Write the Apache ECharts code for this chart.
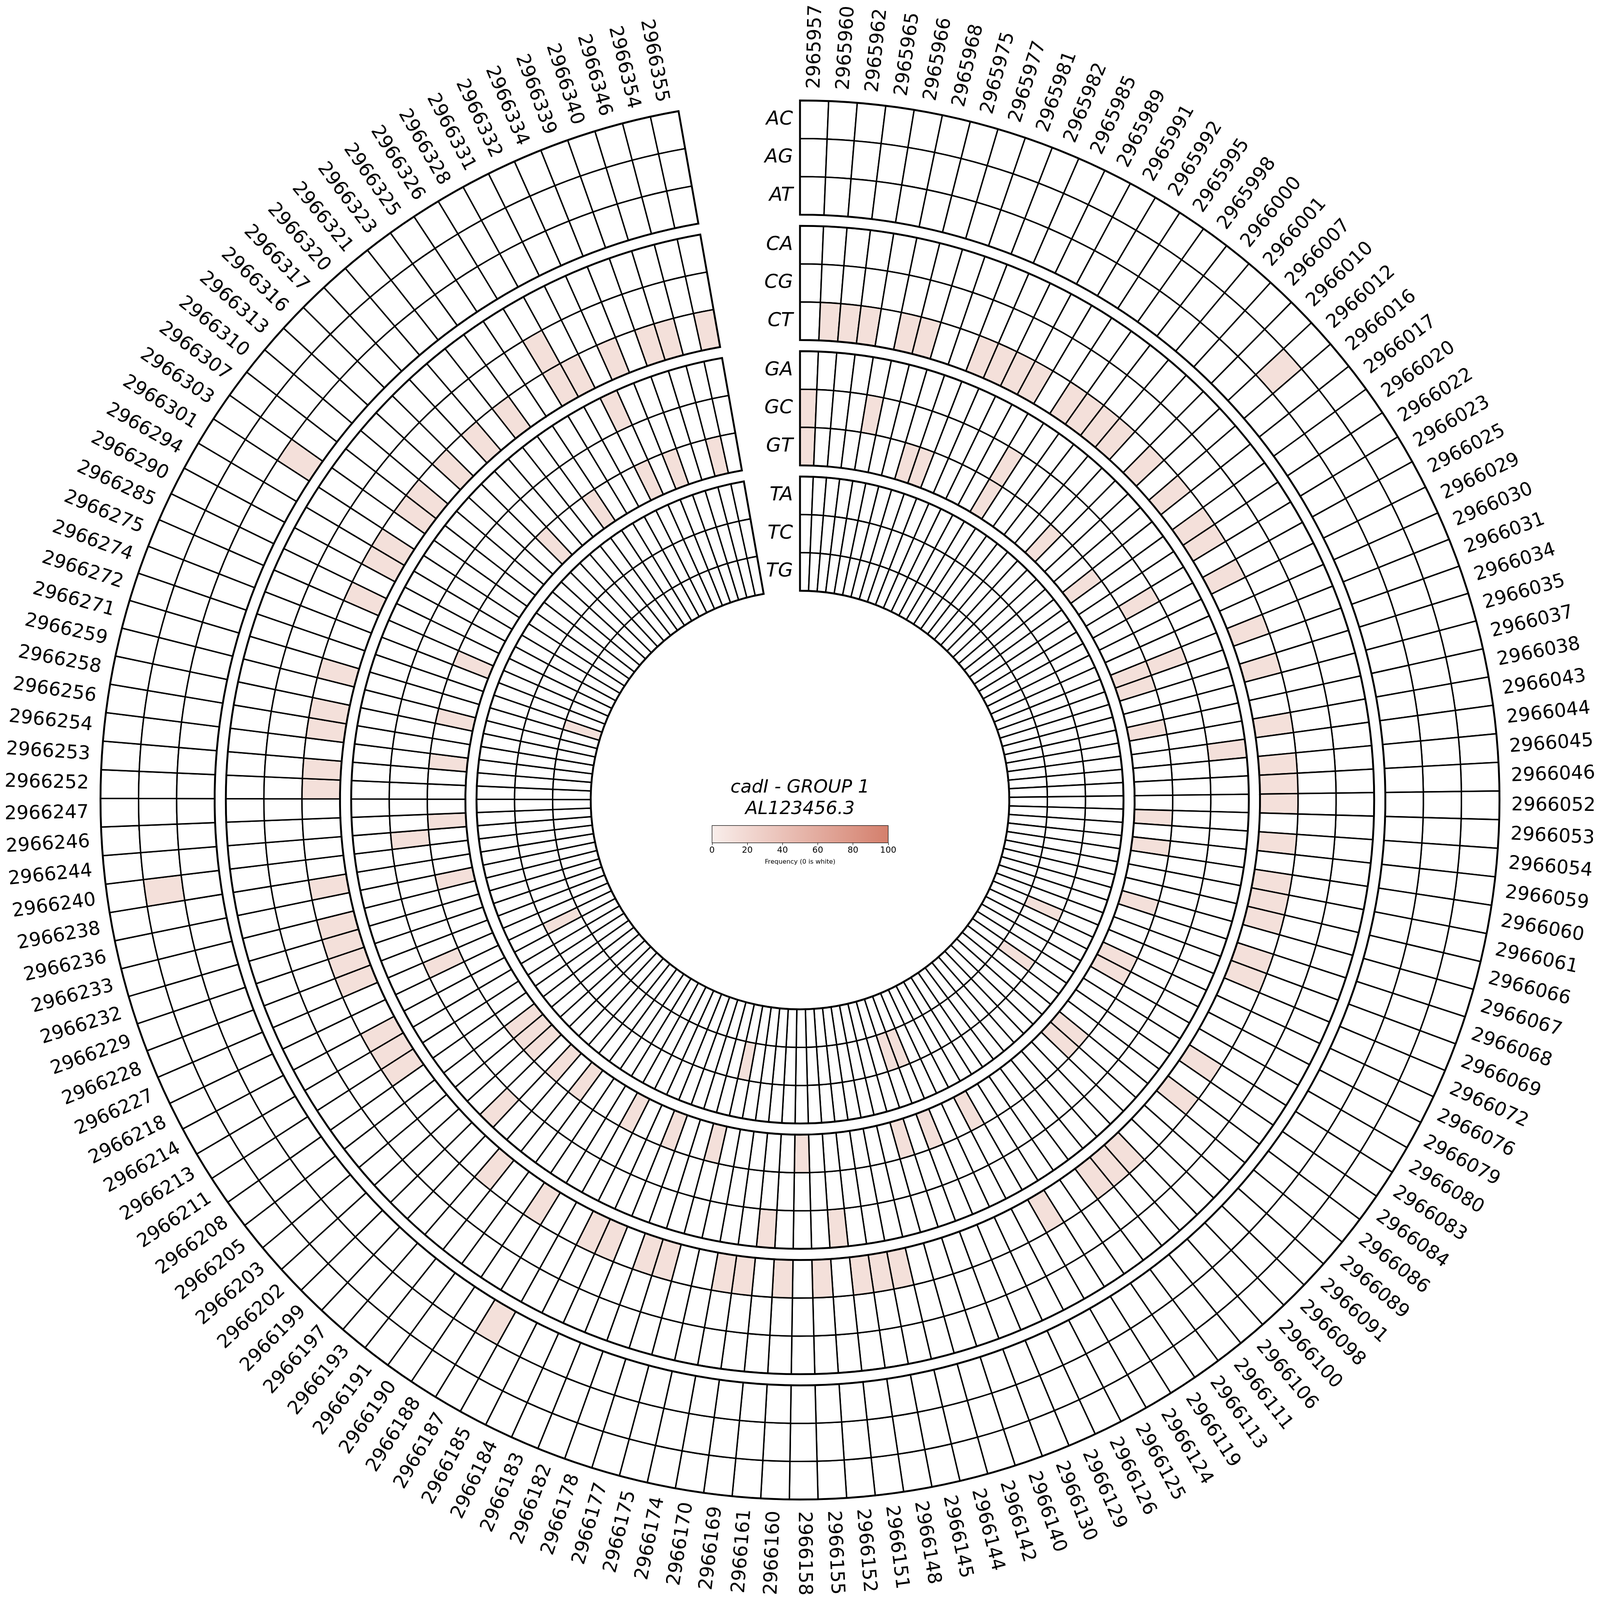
<!DOCTYPE html>
<html>
<head>
<meta charset="utf-8">
<script src="https://cdn.jsdelivr.net/npm/echarts@6/dist/echarts.min.js"></script>
<style>
html,body{margin:0;padding:0;background:#ffffff;overflow:hidden;}
#chart{position:absolute;left:0;top:0;}
</style>
</head>
<body>
<div id="chart"></div>
<script>
// ---------------- data ----------------
const positions = [
2965957,2965960,2965962,2965965,2965966,2965968,2965975,2965977,2965981,2965982,
2965985,2965989,2965991,2965992,2965995,2965998,2966000,2966001,2966007,2966010,
2966012,2966016,2966017,2966020,2966022,2966023,2966025,2966029,2966030,2966031,
2966034,2966035,2966037,2966038,2966043,2966044,2966045,2966046,2966052,2966053,
2966054,2966059,2966060,2966061,2966066,2966067,2966068,2966069,2966072,2966076,
2966079,2966080,2966083,2966084,2966086,2966089,2966091,2966098,2966100,2966106,
2966111,2966113,2966119,2966124,2966125,2966126,2966129,2966130,2966140,2966142,
2966144,2966145,2966148,2966151,2966152,2966155,2966158,2966160,2966161,2966169,
2966170,2966174,2966175,2966177,2966178,2966182,2966183,2966184,2966185,2966187,
2966188,2966190,2966191,2966193,2966197,2966199,2966202,2966203,2966205,2966208,
2966211,2966213,2966214,2966218,2966227,2966228,2966229,2966232,2966233,2966236,
2966238,2966240,2966244,2966246,2966247,2966252,2966253,2966254,2966256,2966258,
2966259,2966271,2966272,2966274,2966275,2966285,2966290,2966294,2966301,2966303,
2966307,2966310,2966313,2966316,2966317,2966320,2966321,2966323,2966325,2966326,
2966328,2966331,2966332,2966334,2966339,2966340,2966346,2966354,2966355
];
const rowNames = ['AC','AG','AT','CA','CG','CT','GA','GC','GT','TA','TC','TG'];

// non-zero frequencies per substitution row: [position, frequency %]
const rowAC = [];
const rowAG = [[2966012,13],[2966240,13]];
const rowAT = [[2966187,13],[2966303,13]];
const rowCA = [];
const rowCG = [[2966328,13]];
const rowCT = [
[2965960,13],[2965962,13],[2965965,13],[2965968,13],[2965975,13],[2965982,13],[2965985,13],
[2965989,13],[2965991,13],[2965995,13],[2965998,13],[2966000,13],[2966001,13],[2966010,13],
[2966016,13],[2966020,13],[2966022,13],[2966025,13],[2966031,13],[2966035,13],[2966043,13],
[2966045,13],[2966046,13],[2966052,13],[2966054,13],[2966060,13],[2966061,13],[2966066,13],
[2966068,13],[2966069,13],[2966083,13],[2966086,13],[2966100,13],[2966106,13],[2966111,13],
[2966124,13],[2966145,13],[2966148,13],[2966151,13],[2966155,13],[2966160,13],[2966169,13],
[2966170,13],[2966177,13],[2966178,13],[2966183,13],[2966184,13],[2966188,13],[2966193,13],
[2966211,13],[2966213,13],[2966214,13],[2966228,13],[2966229,13],[2966232,13],[2966233,13],
[2966238,13],[2966252,13],[2966253,13],[2966256,13],[2966258,13],[2966271,13],[2966285,13],
[2966294,13],[2966301,13],[2966307,13],[2966310,13],[2966316,13],[2966320,13],[2966323,13],
[2966328,13],[2966331,13],[2966334,13],[2966340,13],[2966346,13],[2966355,13]
];
const rowGA = [[2966044,13],[2966152,13],[2966161,13],[2966199,13],[2966332,13]];
const rowGC = [[2965957,13],[2965966,13],[2965992,13],[2966023,13],[2966031,13],[2966227,13],[2966244,13]];
const rowGT = [
[2965957,13],[2965977,13],[2965981,13],[2965992,13],[2966007,13],[2966017,13],[2966031,13],
[2966034,13],[2966038,13],[2966053,13],[2966059,13],[2966067,13],[2966076,13],[2966079,13],
[2966089,13],[2966091,13],[2966125,13],[2966130,13],[2966142,13],[2966158,13],[2966175,13],
[2966182,13],[2966185,13],[2966191,13],[2966197,13],[2966202,13],[2966203,13],[2966205,13],
[2966236,13],[2966246,13],[2966254,13],[2966259,13],[2966275,13],[2966317,13],[2966325,13],
[2966332,13],[2966339,13],[2966354,13]
];
const rowTA = [];
const rowTC = [[2966072,13],[2966084,13],[2966130,13],[2966140,13],[2966174,13],[2966218,13]];
const rowTG = [[2966272,13]];

const colorStops = ['#f9eeeb','#d47f6c'];
const colorbarTicks = [0,20,40,60,80,100];
const titleText = 'cadI - GROUP 1\nAL123456.3';
const colorbarName = 'Frequency (0 is white)';

// ---------------- layout (reference pixels, scaled to the viewport) ----------------
const W = Math.min(window.innerWidth, window.innerHeight) || 6766;
const S = W / 6766;
const dom = document.getElementById('chart');
dom.style.width = W + 'px';
dom.style.height = W + 'px';

const rowsData = [rowAC,rowAG,rowAT,rowCA,rowCG,rowCT,rowGA,rowGC,rowGT,rowTA,rowTC,rowTG];
const N = positions.length;
const SPAN = 350;               // degrees covered by the heatmap
const STEP = SPAN / N;
const R_IN = 885, ROW_H = 161, GAP = 47;
const R_OUT = R_IN + 4 * 3 * ROW_H + 3 * GAP;
const LABEL_R = R_OUT + 50;

function rowRange(ri) {
  const t = Math.floor(ri / 3), j = ri % 3;
  const fromInner = 3 - t;
  const base = R_IN + fromInner * (3 * ROW_H + GAP);
  const outer = base + (3 - j) * ROW_H;
  return [outer - ROW_H, outer];
}

const cellData = [];
rowsData.forEach((rows, ri) => {
  const m = {};
  rows.forEach(([p, v]) => { m[p] = v; });
  positions.forEach((p, k) => {
    cellData.push([k, ri, m[p] !== undefined ? m[p] : 0]);
  });
});

function sectorShape(api, r0, r1, a0, a1) {
  const c = api.coord([0, a0]);
  const q0 = api.coord([r1, a0]);
  const q1 = api.coord([r1, a1]);
  const q2 = api.coord([r0, a0]);
  let s = Math.atan2(q0[1] - c[1], q0[0] - c[0]);
  let e = Math.atan2(q1[1] - c[1], q1[0] - c[0]);
  while (e <= s) e += 2 * Math.PI;
  return {
    cx: c[0], cy: c[1],
    r0: Math.hypot(q2[0] - c[0], q2[1] - c[1]),
    r: Math.hypot(q0[0] - c[0], q0[1] - c[1]),
    startAngle: s, endAngle: e, clockwise: true
  };
}

const chart = echarts.init(dom);
const option = {
  backgroundColor: '#ffffff',
  animation: false,
  polar: { center: ['50%', '50%'], radius: [0, R_OUT * S] },
  angleAxis: { type: 'value', min: 0, max: 360, startAngle: 90, clockwise: true, show: false },
  radiusAxis: { type: 'value', min: 0, max: R_OUT, show: false },
  graphic: [{
    type: 'text', x: W / 2, y: (3331 - 46) * S,
    style: { text: titleText, fontFamily: 'DejaVu Sans', fontStyle: 'italic', fontWeight: 'normal',
      fontSize: 77 * S, lineHeight: 92 * S, fill: '#000', align: 'center', verticalAlign: 'top' }
  }],
  visualMap: {
    type: 'continuous', min: 0, max: 100, dimension: 2, seriesIndex: 0,
    inRange: { color: colorStops }, show: false
  },
  grid: {
    left: 3011 * S, top: 3491 * S, width: 745 * S, height: 73 * S,
    show: true, borderColor: '#000', borderWidth: 2 * S,
    backgroundColor: { type: 'linear', x: 0, y: 0, x2: 1, y2: 0,
      colorStops: [{ offset: 0, color: colorStops[0] }, { offset: 1, color: colorStops[1] }] }
  },
  xAxis: {
    type: 'value', gridIndex: 0, min: colorbarTicks[0], max: colorbarTicks[colorbarTicks.length - 1],
    interval: colorbarTicks[1] - colorbarTicks[0],
    axisLine: { show: false },
    axisTick: { show: true, length: 10 * S, lineStyle: { color: '#000', width: 2 * S } },
    splitLine: { show: false },
    axisLabel: { fontFamily: 'DejaVu Sans', fontSize: 36 * S, color: '#000', margin: 14 * S },
    name: colorbarName, nameLocation: 'middle', nameGap: 68 * S,
    nameTextStyle: { fontFamily: 'DejaVu Sans', fontSize: 27 * S, color: '#000' }
  },
  yAxis: { type: 'value', gridIndex: 0, min: 0, max: 1, show: false },
  series: [
    {
      type: 'custom', coordinateSystem: 'polar', data: cellData, z: 2,
      renderItem: function (params, api) {
        const k = api.value(0), ri = api.value(1), v = api.value(2);
        const [r0, r1] = rowRange(ri);
        return {
          type: 'sector',
          shape: sectorShape(api, r0, r1, k * STEP, (k + 1) * STEP),
          style: { fill: v > 0 ? api.visual('color') : '#ffffff', stroke: '#000', lineWidth: 6 * S }
        };
      }
    },
    {
      type: 'custom', coordinateSystem: 'polar', z: 3,
      data: [0, 1, 2, 3],
      renderItem: function (params, api) {
        const t = api.value(0);
        const a = rowRange(t * 3 + 2)[0], b = rowRange(t * 3)[1];
        return {
          type: 'sector',
          shape: sectorShape(api, a, b, 0, SPAN),
          style: { fill: 'none', stroke: '#000', lineWidth: 8 * S }
        };
      }
    },
    {
      type: 'custom', coordinateSystem: 'polar', z: 4,
      data: positions.map((p, k) => [k]),
      renderItem: function (params, api) {
        const k = api.value(0);
        const ang = (k + 0.5) * STEP;
        const p = api.coord([LABEL_R, ang]);
        const right = ang < 180;
        const rot = (right ? (90 - ang) : (270 - ang)) * Math.PI / 180;
        return {
          type: 'text', x: p[0], y: p[1], rotation: rot,
          style: { text: String(positions[k]), fontFamily: 'DejaVu Sans', fontSize: 80 * S,
            fill: '#000', align: right ? 'left' : 'right', verticalAlign: 'middle' }
        };
      }
    },
    {
      type: 'custom', coordinateSystem: 'polar', z: 4,
      data: rowNames.map((n, i) => [i]),
      renderItem: function (params, api) {
        const ri = api.value(0);
        const [r0, r1] = rowRange(ri);
        const p = api.coord([(r0 + r1) / 2, 0]);
        return {
          type: 'text', x: p[0] - 30 * S, y: p[1],
          style: { text: rowNames[ri], fontFamily: 'DejaVu Sans', fontStyle: 'italic', fontSize: 82 * S,
            fill: '#000', align: 'right', verticalAlign: 'middle' }
        };
      }
    }
  ]
};
chart.setOption(option);
</script>
</body>
</html>
